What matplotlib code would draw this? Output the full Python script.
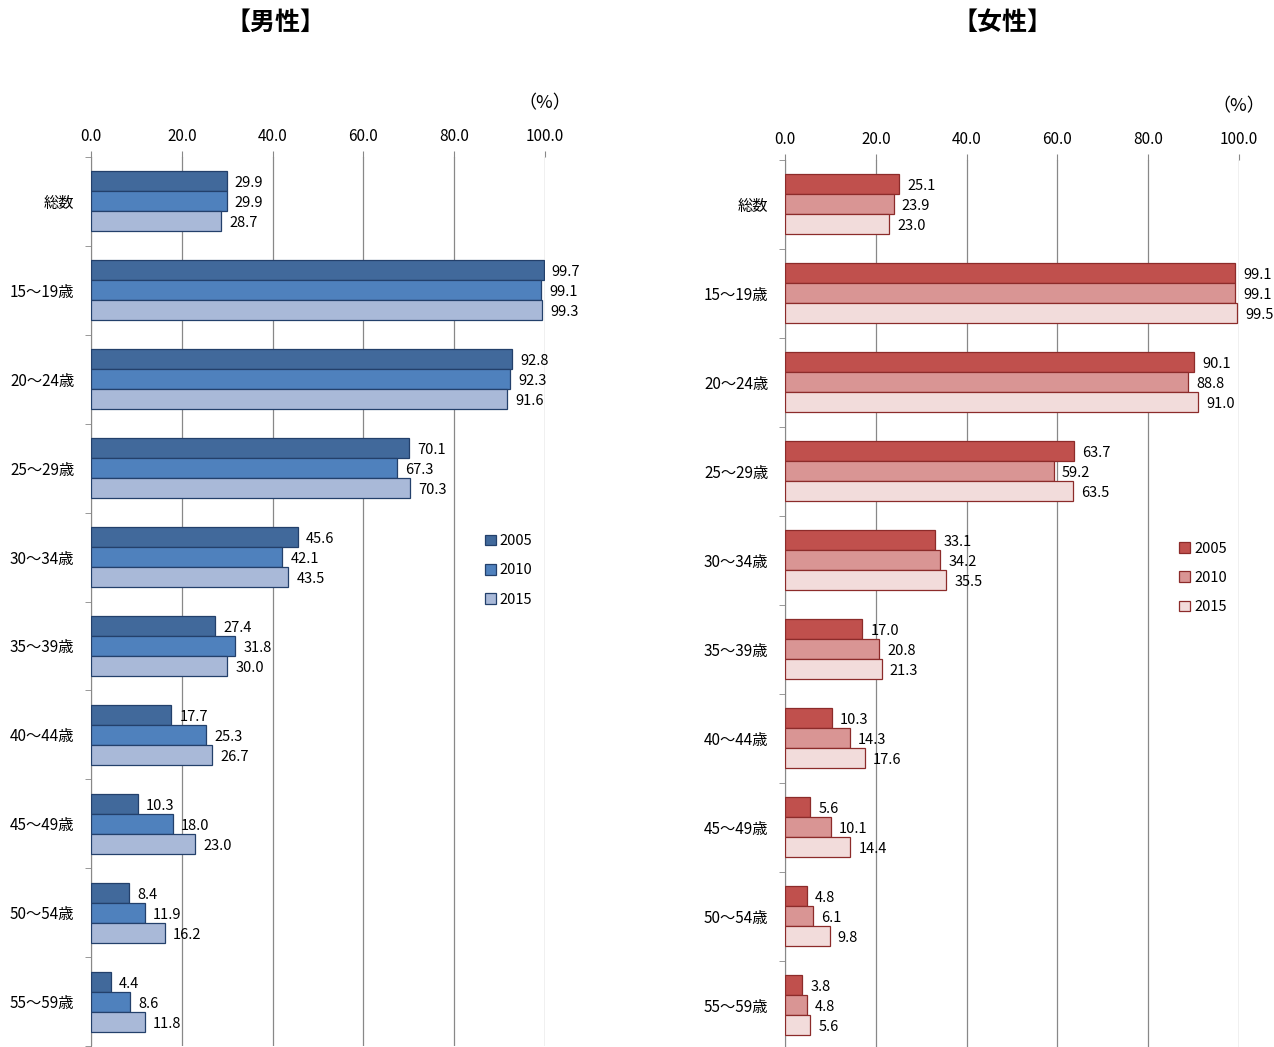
import matplotlib
matplotlib.use('Agg')
import numpy as np
from matplotlib import pyplot as plt

plt.rcParams['font.family'] = ['Noto Sans CJK JP', 'DejaVu Sans']

categories = ['総数', '15～19歳', '20～24歳', '25～29歳', '30～34歳',
              '35～39歳', '40～44歳', '45～49歳', '50～54歳', '55～59歳']
years = ['2005', '2010', '2015']

male_2005 = [29.9, 99.7, 92.8, 70.1, 45.6, 27.4, 17.7, 10.3, 8.4, 4.4]
male_2010 = [29.9, 99.1, 92.3, 67.3, 42.1, 31.8, 25.3, 18.0, 11.9, 8.6]
male_2015 = [28.7, 99.3, 91.6, 70.3, 43.5, 30.0, 26.7, 23.0, 16.2, 11.8]

female_2005 = [25.1, 99.1, 90.1, 63.7, 33.1, 17.0, 10.3, 5.6, 4.8, 3.8]
female_2010 = [23.9, 99.1, 88.8, 59.2, 34.2, 20.8, 14.3, 10.1, 6.1, 4.8]
female_2015 = [23.0, 99.5, 91.0, 63.5, 35.5, 21.3, 17.6, 14.4, 9.8, 5.6]

male_colors = ['#41699b', '#4f81bd', '#a9b9d8']
male_edge = '#23406b'
female_colors = ['#c0504d', '#d99594', '#f2dcdb']
female_edge = '#8c2b2a'


def draw_panel(ax, series, colors, edge, title, title_x, leg_y):
    n = len(categories)
    y = np.arange(n)
    h = 0.225
    for k, vals in enumerate(series):
        pos = y + (k - 1) * h
        ax.barh(pos, vals, height=h, color=colors[k], edgecolor=edge,
                linewidth=0.9, label=years[k], zorder=3)
        for p, v in zip(pos, vals):
            ax.text(v + 1.8, p + 0.02, f'{v:.1f}', va='center', ha='left',
                    fontsize=10.5, zorder=4)
    ax.set_xlim(0, 100)
    ax.set_ylim(n - 0.5, -0.5)
    ax.xaxis.tick_top()
    ax.set_xticks(np.arange(0, 101, 20))
    ax.set_xticklabels([f'{t:.1f}' for t in range(0, 101, 20)], fontsize=11)
    ax.tick_params(axis='x', length=4, color='#888888', pad=4)
    ax.set_yticks(y)
    ax.set_yticklabels(categories, fontsize=11)
    ax.tick_params(axis='y', length=0, pad=12)
    ax.set_yticks(np.arange(-0.5, n, 1), minor=True)
    ax.tick_params(axis='y', which='minor', length=4, color='#888888')
    ax.grid(axis='x', color='#888888', linewidth=0.9, zorder=0)
    for s in ['top', 'right', 'bottom']:
        ax.spines[s].set_visible(False)
    ax.spines['left'].set_color('#888888')
    ax.text(1.0, 1.06, '（%）', transform=ax.transAxes, ha='center',
            va='center', fontsize=13)
    ax.legend(loc='center left', bbox_to_anchor=(0.838, leg_y),
              frameon=False, fontsize=10.5, handlelength=0.75,
              handleheight=0.75, handletextpad=0.3, labelspacing=1.05)
    fig.text(title_x, 0.978, title, ha='center', va='center',
             fontsize=18, fontweight='bold')


fig = plt.figure(figsize=(12.74, 10.47), dpi=100)
ax1 = fig.add_axes([0.0714, 0.0005, 0.3564, 0.85])
ax2 = fig.add_axes([0.6162, -0.0024, 0.3564, 0.85])

draw_panel(ax1, [male_2005, male_2010, male_2015], male_colors, male_edge,
           '【男性】', 0.216, 0.535)
draw_panel(ax2, [female_2005, female_2010, female_2015], female_colors,
           female_edge, '【女性】', 0.787, 0.53)

fig.savefig('out.png', dpi=100)
